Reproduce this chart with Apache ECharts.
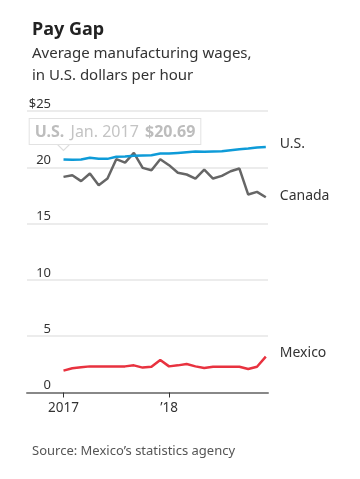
<!DOCTYPE html>
<html><head><meta charset="utf-8">
<script src="https://cdn.jsdelivr.net/npm/echarts@6/dist/echarts.min.js"></script>
<style>html,body{margin:0;padding:0;background:#fff}#c{width:360px;height:479px}</style>
</head><body><div id="c"></div>
<script>
const months = ['Jan 2017','Feb 2017','Mar 2017','Apr 2017','May 2017','Jun 2017','Jul 2017','Aug 2017','Sep 2017','Oct 2017','Nov 2017','Dec 2017',
  'Jan 2018','Feb 2018','Mar 2018','Apr 2018','May 2018','Jun 2018','Jul 2018','Aug 2018','Sep 2018','Oct 2018','Nov 2018','Dec 2018'];
const usValues = [20.69,20.66,20.69,20.84,20.75,20.75,20.93,20.96,21.02,21.05,21.07,21.22,21.22,21.28,21.34,21.40,21.37,21.40,21.43,21.52,21.61,21.67,21.76,21.81];
const canadaValues = [19.15,19.30,18.77,19.45,18.41,19.00,20.72,20.42,21.28,19.95,19.74,20.72,20.19,19.51,19.36,19.00,19.80,19.00,19.24,19.65,19.89,17.58,17.82,17.34];
const mexicoValues = [1.94,2.15,2.24,2.32,2.32,2.32,2.32,2.32,2.41,2.21,2.29,2.89,2.32,2.41,2.53,2.32,2.18,2.29,2.29,2.29,2.29,2.09,2.29,3.18];
const xTickValues = [0, 12];
const xTickLabels = ['2017', '\u201918'];

const FONT = 'Noto Sans';
const pairs = arr => arr.map((v, i) => [i, v]);

const chart = echarts.init(document.getElementById('c'), null, {renderer: 'canvas'});
chart.setOption({
  backgroundColor: '#fff',
  animation: false,
  textStyle: {fontFamily: FONT},
  title: [{
    left: 27, top: 16,
    text: 'Pay Gap',
    textStyle: {fontFamily: FONT, fontSize: 18, fontWeight: 'bold', color: '#222'},
    subtext: 'Average manufacturing wages,\nin U.S. dollars per hour',
    subtextStyle: {fontFamily: FONT, fontSize: 15, color: '#333', lineHeight: 22},
    itemGap: 4
  }, {
    left: 27, top: 440,
    text: 'Source: Mexico\u2019s statistics agency',
    textStyle: {fontFamily: FONT, fontSize: 13, fontWeight: 'normal', color: '#555'}
  }],
  grid: {left: 27, right: 92, top: 111, bottom: 86.5},
  xAxis: {
    type: 'value', min: -4.15, max: 23.25,
    splitLine: {show: false},
    axisLine: {show: true, lineStyle: {color: '#888', width: 2}},
    axisTick: {show: true, customValues: xTickValues, length: 5, lineStyle: {color: '#333', width: 1}},
    axisLabel: {show: true, customValues: xTickValues, margin: 9, fontSize: 13.5, color: '#333',
      formatter: v => xTickLabels[xTickValues.indexOf(v)] || ''}
  },
  yAxis: {
    type: 'value', min: 0, max: 25, interval: 5,
    axisLine: {show: false}, axisTick: {show: false},
    splitLine: {show: true, lineStyle: {color: '#e6e6e6', width: 1.5}},
    axisLabel: {inside: true, align: 'right', verticalAlign: 'bottom', margin: 24, fontSize: 13, color: '#333', lineHeight: 14,
      formatter: v => v === 25 ? '$25' : String(v)}
  },
  series: [{
    name: 'U.S.', type: 'line', data: pairs(usValues), symbol: 'none',
    lineStyle: {color: '#0e9bd8', width: 2.5}, itemStyle: {color: '#0e9bd8'},
    endLabel: {show: true, formatter: 'U.S.', distance: 14, fontSize: 14, color: '#333', offset: [0, -3]},
    markPoint: {
      symbol: 'triangle', symbolRotate: 180, symbolSize: [12, 6], symbolOffset: [0, -12],
      itemStyle: {color: '#fff', borderColor: '#ddd', borderWidth: 1},
      label: {show: true, position: 'inside', offset: [51.5, -16],
        formatter: '{a|U.S.}  {b|Jan. 2017}  {a|$20.69}',
        backgroundColor: '#fff', borderColor: '#e2e2e2', borderWidth: 1, padding: [5, 5, 4, 5],
        rich: {a: {fontFamily: FONT, fontSize: 16, fontWeight: 'bold', color: '#bdbdbd'},
               b: {fontFamily: FONT, fontSize: 16, color: '#c4c4c4'}}},
      data: [{coord: [0, usValues[0]]}]
    },
    z: 4
  }, {
    name: 'Canada', type: 'line', data: pairs(canadaValues), symbol: 'none',
    lineStyle: {color: '#666', width: 2.5}, itemStyle: {color: '#666'},
    endLabel: {show: true, formatter: 'Canada', distance: 14, fontSize: 14, color: '#333', offset: [0, -1]},
    z: 3
  }, {
    name: 'Mexico', type: 'line', data: pairs(mexicoValues), symbol: 'none',
    lineStyle: {color: '#e8323f', width: 2.5}, itemStyle: {color: '#e8323f'},
    endLabel: {show: true, formatter: 'Mexico', distance: 14, fontSize: 14, color: '#333', offset: [0, -4]},
    z: 3
  }]
});
</script>
</body></html>
